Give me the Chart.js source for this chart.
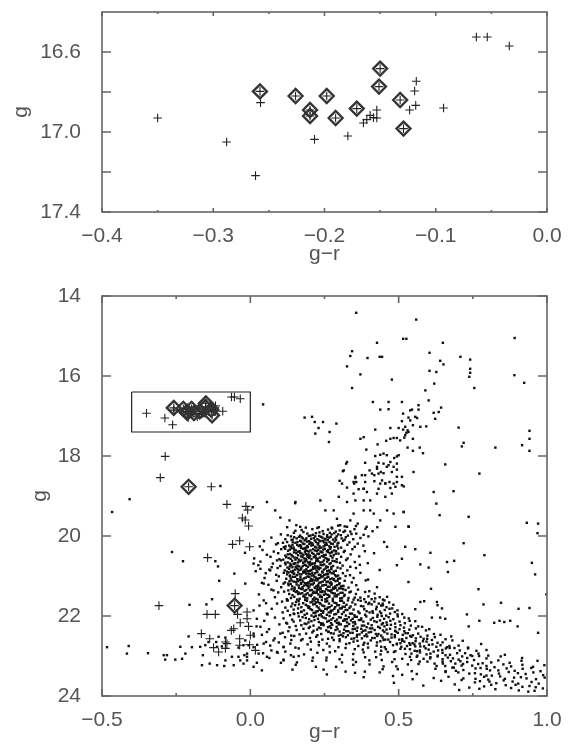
<!DOCTYPE html>
<html>
<head>
<meta charset="utf-8">
<script src="https://cdn.jsdelivr.net/npm/chart.js@4.4.0/dist/chart.umd.min.js"></script>
<style>
  body { margin: 0; background: #fff; width: 570px; height: 753px; overflow: hidden; position: relative; }
  canvas { position: absolute; left: 0; }
  #top { top: 0; }
  #bottom { top: 280px; }
</style>
</head>
<body>
<canvas id="top" width="570" height="280"></canvas>
<canvas id="bottom" width="570" height="473"></canvas>
<script>
// --- tick values and labels ---
const topXTicks = [-0.4, -0.35, -0.3, -0.25, -0.2, -0.15, -0.1, -0.05, 0.0];
const topXTickLabels = ['\u22120.4', '', '\u22120.3', '', '\u22120.2', '', '\u22120.1', '', '0.0'];
const topYTicks = [16.6, 16.8, 17.0, 17.2, 17.4];
const topYTickLabels = ['16.6', '', '17.0', '', '17.4'];
const botXTicks = [-0.5, -0.25, 0.0, 0.25, 0.5, 0.75, 1.0];
const botXTickLabels = ['\u22120.5', '', '0.0', '', '0.5', '', '1.0'];
const botYTicks = [14, 16, 18, 20, 22, 24];
const botYTickLabels = ['14', '16', '18', '20', '22', '24'];

// --- marked stars (g-r, g) ---
const diamondStars = [
  [-0.258, 16.797], [-0.226, 16.82], [-0.198, 16.82], [-0.213, 16.89], [-0.213, 16.92],
  [-0.190, 16.93], [-0.171, 16.883], [-0.150, 16.683], [-0.151, 16.773], [-0.132, 16.84], [-0.129, 16.983]
];
const plusStars = [
  [-0.35, 16.93], [-0.288, 17.05], [-0.262, 17.218], [-0.2575, 16.853], [-0.209, 17.037], [-0.179, 17.02],
  [-0.165, 16.955], [-0.162, 16.938], [-0.159, 16.917], [-0.156, 16.928], [-0.153, 16.93], [-0.153, 16.89],
  [-0.1175, 16.746], [-0.119, 16.795], [-0.118, 16.867], [-0.1235, 16.89], [-0.093, 16.88],
  [-0.0635, 16.525], [-0.0537, 16.525], [-0.0339, 16.57]
];
const diamondFaint = [[-0.208, 18.77], [-0.053, 21.74]];
const plusFaint = [
  [-0.287, 18.01], [-0.3035, 18.54], [-0.1316, 18.77], [-0.079, 19.21], [-0.015, 19.26], [-0.009, 19.35],
  [-0.027, 19.55], [-0.017, 19.6], [-0.006, 19.75], [-0.06, 20.21], [-0.036, 20.12], [-0.0025, 20.27],
  [-0.144, 20.54], [-0.051, 21.44], [-0.308, 21.74], [-0.146, 21.96], [-0.118, 21.96], [-0.043, 21.96],
  [-0.011, 21.9], [-0.011, 22.07], [-0.034, 22.17], [-0.006, 22.26], [-0.056, 22.32], [-0.064, 22.36],
  [-0.165, 22.44], [-0.137, 22.57], [-0.036, 22.57], [0.0, 22.48], [-0.084, 22.65], [-0.079, 22.69],
  [-0.124, 22.79], [-0.107, 22.9], [-0.084, 22.81], [-0.036, 22.73], [-0.0025, 22.72], [0.017, 22.86]
];
const boxX = [-0.4, 0.0, 0.0, -0.4, -0.4];
const boxY = [16.4, 16.4, 17.4, 17.4, 16.4];

// --- field stars: isolated ones (g-r, g) ---
const fieldStars = [
  [0.357,14.42],[0.427,15.17],[0.343,15.38],[0.337,15.5],[0.395,15.55],[0.436,15.52],[0.444,15.52],[0.326,15.76],
  [0.371,15.96],[0.477,16.09],[0.343,16.3],[0.043,16.71],[0.413,16.65],[0.466,16.65],[0.438,16.84],[0.466,16.83],
  [0.183,17.04],[0.208,17.02],[0.217,17.15],[0.245,17.15],[0.23,17.3],[0.29,17.19],[0.267,17.4],[0.219,17.44],
  [0.265,17.65],[0.421,17.34],[0.472,17.3],[0.5,17.3],[0.371,17.57],[0.382,17.53],[0.429,17.71],[0.458,17.62],
  [0.472,17.57],[0.483,17.55],[0.494,17.55],[0.391,17.84],[0.421,18.0],[0.438,17.97],[0.449,17.94],[0.46,17.98],
  [0.485,18.05],[0.494,18.01],[0.5,17.98],[0.323,18.19],[0.387,18.17],[0.432,18.17],[0.449,18.19],[0.472,18.15],
  [0.494,18.19],[0.312,18.38],[0.402,18.36],[0.427,18.32],[0.44,18.4],[0.46,18.27],[0.477,18.4],[0.494,18.34],
  [0.387,18.48],[0.418,18.48],[0.432,18.44],[0.449,18.43],[0.301,18.62],[0.354,18.55],[0.357,18.65],[0.35,18.69],
  [0.387,18.65],[0.418,18.63],[0.438,18.69],[0.455,18.68],[0.469,18.65],[0.483,18.69],[0.494,18.65],[0.326,18.79],
  [0.365,18.83],[0.382,18.82],[0.432,18.82],[0.472,18.8],
  [0.559,14.59],[0.515,15.07],[0.526,15.07],[0.649,15.17],[0.604,15.42],[0.708,15.52],[0.741,15.59],[0.64,15.62],
  [0.651,15.71],[0.891,15.05],[0.604,15.87],[0.627,15.9],[0.741,15.82],[0.741,15.92],[0.738,16.02],[0.89,15.98],
  [0.923,16.17],[0.62,16.19],[0.755,16.3],[0.59,16.36],[0.601,16.61],[0.511,16.65],[0.539,16.86],[0.545,16.84],
  [0.567,16.73],[0.567,16.84],[0.643,16.79],[0.635,16.9],[0.618,16.92],[0.515,16.94],[0.533,17.04],[0.556,17.02],
  [0.562,17.05],[0.539,17.11],[0.623,17.07],[0.511,17.13],[0.522,17.27],[0.548,17.23],[0.573,17.27],[0.593,17.26],
  [0.515,17.34],[0.53,17.36],[0.526,17.42],[0.522,17.48],[0.519,17.54],[0.533,17.4],[0.548,17.57],[0.505,17.61],
  [0.53,17.79],[0.548,17.87],[0.571,17.79],[0.582,17.93],[0.702,17.29],[0.719,17.67],[0.713,17.76],[0.826,17.79],
  [0.941,17.37],[0.941,17.57],[0.941,17.87],[0.916,17.73],[0.657,18.21],[0.55,18.4],[0.772,18.44],[0.511,18.52],
  [0.517,18.76],
  [0.618,18.9],[0.685,18.88],[0.627,19.19],[0.517,19.4],[0.638,19.48],[0.736,19.52],[0.533,19.76],[0.932,19.67],
  [0.97,19.69],[0.968,19.93],[0.719,20.18],[0.522,20.27],[0.556,20.33],[0.511,20.57],[0.607,20.42],[0.789,20.48],
  [0.573,20.71],[0.601,20.79],[0.663,20.65],[0.687,20.62],[0.666,20.9],[0.949,20.67],[0.96,20.96],[0.533,21.15],
  [0.609,21.32],[0.769,21.33],[0.998,21.46],[0.573,21.65],[0.586,21.63],[0.629,21.65],[0.631,21.73],[0.646,21.81],
  [0.786,21.71],[0.845,21.67],[0.904,21.82],[0.941,21.8],[0.73,21.96],[0.556,21.83],[0.612,22.04],[0.64,22.04],
  [0.657,22.07],[0.772,22.12],[0.822,22.17],[0.84,22.12],[0.856,22.15],[0.876,22.12],[0.901,22.26],[0.736,22.26],
  [0.97,22.42],[0.461,20.27],[0.494,20.73],
  [0.084,19.36],[0.101,19.54],[0.152,19.15],[0.132,19.61],[0.168,19.77],[0.236,19.11],[0.253,19.36],[0.281,19.36],
  [0.292,19.57],[0.303,19.73],[0.326,19.77],[0.337,19.61],[0.348,19.44],[0.362,19.69],[0.382,19.36],[0.404,19.11],
  [0.416,19.44],[0.438,19.61],[0.461,19.36],[0.483,19.44],[0.489,19.77],[0.517,19.4],[0.534,19.77],
  [0.326,18.15],[0.315,18.36],[0.354,18.52],[0.348,18.65],[0.376,18.48],[0.382,18.82],[0.41,18.44],[0.427,18.27],
  [0.444,18.61],[0.466,18.23],[0.455,18.69],[0.483,18.27],[0.494,18.52],[0.393,18.9],[0.427,18.94],[0.348,18.94],
  [0.309,18.69],[0.298,19.02],[0.326,19.15],[0.354,19.11],[0.382,19.11],[0.404,19.36],[0.455,19.02],[0.477,18.94],
  [0.489,18.77],[0.511,18.73],
  [-0.101,18.75],[-0.407,19.08],[-0.466,19.4],[0.008,19.28],[0.056,19.15],[0.124,19.78],[0.155,19.73],[0.151,19.18],
  [-0.264,20.4],[-0.227,20.63],[-0.118,20.63],[-0.109,20.76],[-0.054,20.94],[-0.105,21.12],[-0.017,21.19],
  [-0.205,21.72],[-0.148,21.71],[-0.129,21.58],
  [-0.483,22.78],[-0.41,22.75],[-0.416,22.94],[-0.345,22.93],[-0.292,22.98],[-0.281,22.98],[-0.287,23.09],
  [-0.236,22.77],[-0.23,23.07],[-0.253,23.09],[-0.219,22.94],[-0.208,22.51],[-0.197,22.78],[-0.169,22.77],
  [-0.152,22.73],[-0.141,22.65],[-0.137,23.19],[-0.163,23.23],[-0.16,22.98],[-0.112,23.23],[-0.088,23.25],
  [-0.084,23.11],[-0.062,23.02],[-0.04,23.02],[-0.023,23.19],[-0.011,23.11],[-0.115,22.65],[-0.084,22.54],
  [-0.107,22.52],[-0.112,22.77],[-0.096,22.76],[-0.04,22.79],[-0.023,22.73],[-0.006,22.73],[-0.011,22.94],
  [-0.02,22.98],
  [0.011,21.86],[0.022,22.07],[0.045,21.61],[0.056,21.94],[0.034,22.27],[0.056,22.4],[0.011,22.44],[-0.017,22.61],
  [0.011,22.78],[0.045,22.69],[0.078,22.61],[0.028,22.94],[0.056,23.02],[0.09,22.9],[0.112,22.78],[0.112,23.11],
  [0.146,23.02],[0.135,22.69],[0.101,22.44],[0.124,22.19],[0.146,21.94],[0.09,21.69],[0.124,21.61],[0.078,21.36],
  [0.112,21.19],[0.146,20.94],[0.045,21.19],[0.067,20.86],[0.09,20.61],[0.034,20.82],[0.011,20.69],[-0.011,23.02],
  [-0.034,23.11],[-0.056,23.23],[0.011,23.27],[0.039,23.36],[0.022,23.17]
];

// --- crowded sequence, by 0.1 mag bins: [bin g, g-r, hundredths below bin g, g-r, hundredths, ...] ---
const crowdBins = [
  [19.70, .231,8, .318,6, .274,9, .392,7, .187,9, .356,5, .428,8, .296,4],
  [19.80, .152,7, .209,3, .244,8, .276,1, .301,6, .337,9, .388,2, .173,5, .226,0, .262,4, .319,7, .351,3, .412,8, .288,9],
  [19.90, .103,6, .147,2, .168,9, .192,4, .211,7, .233,1, .247,5, .259,8, .283,3, .296,6, .314,0, .329,9, .357,4, .382,7,
          .126,8, .179,0, .221,3, .268,2, .305,8, .341,5, .203,9, .274,6],
  [20.00, .071,4, .118,8, .137,1, .156,6, .173,3, .186,9, .197,0, .214,5, .226,8, .238,2, .251,7, .266,4, .279,9, .291,1,
          .308,6, .322,3, .347,8, .371,5, .398,1, .164,2, .205,7, .243,4, .287,5, .143,9, .232,0, .259,3, .318,9, .189,6],
  [20.10, .046,3, .093,8, .124,5, .139,0, .152,7, .168,2, .177,9, .191,4, .202,6, .217,1, .229,8, .236,3, .248,6, .261,0,
          .272,9, .284,4, .297,7, .313,2, .334,6, .362,9, .451,5, .159,5, .183,1, .209,9, .244,2, .256,7, .221,5, .110,7, .289,0, .198,3],
  [20.20, .032,6, .087,1, .113,8, .131,4, .146,9, .158,2, .171,6, .182,0, .194,8, .206,4, .218,7, .227,1, .239,9, .252,3,
          .266,6, .278,0, .293,5, .306,9, .327,2, .352,7, .381,4, .163,5, .187,9, .211,2, .247,6, .271,8, .142,3, .233,5, .199,0, .119,6],
  [20.30, .041,5, .079,9, .104,3, .127,7, .139,1, .153,6, .166,8, .178,2, .186,5, .197,9, .212,3, .224,7, .233,0, .246,4,
          .258,8, .269,2, .283,6, .296,1, .318,7, .344,3, .386,8, .148,4, .171,0, .203,6, .238,9, .262,5, .117,2, .191,7, .229,5, .276,9],
  [20.40, -.018,2, .056,7, .094,3, .118,9, .134,5, .147,1, .161,8, .173,4, .184,0, .196,6, .208,2, .219,9, .231,5, .243,1,
          .254,7, .268,3, .281,8, .297,4, .315,0, .338,6, .417,3, .126,6, .155,3, .179,7, .201,9, .226,4, .249,8, .274,1, .188,5, .237,0],
  [20.50, .013,6, .068,2, .098,8, .121,3, .136,7, .149,4, .163,9, .171,1, .182,6, .193,2, .206,8, .214,3, .227,7, .241,0,
          .253,5, .264,9, .277,4, .291,8, .306,2, .328,6, .367,1, .143,1, .157,5, .187,8, .219,0, .234,4, .259,7, .111,9, .198,5, .247,2],
  [20.60, .034,4, .076,9, .103,1, .126,6, .141,2, .152,8, .167,3, .178,7, .189,0, .201,5, .213,9, .222,2, .236,6, .248,1,
          .259,4, .271,8, .284,3, .302,7, .323,0, .352,5, .396,8, .117,7, .146,9, .172,1, .194,6, .229,3, .264,0, .291,5, .207,9, .183,4],
  [20.70, .027,3, .072,8, .101,5, .119,1, .133,6, .148,0, .159,4, .172,9, .183,2, .194,7, .206,1, .218,5, .231,9, .243,3,
          .256,6, .267,0, .279,5, .294,9, .311,4, .337,7, .369,2, .142,8, .164,6, .188,4, .212,8, .237,2, .261,8, .125,9, .199,0, .226,6],
  [20.80, .018,8, .064,4, .092,0, .116,6, .131,2, .144,7, .157,1, .166,5, .178,9, .189,3, .201,7, .211,2, .223,6, .236,0,
          .248,4, .259,8, .273,3, .288,7, .304,1, .327,6, .356,0, .436,5, .137,9, .171,3, .194,8, .217,1, .242,9, .265,6, .151,4, .183,6],
  [20.90, .052,3, .087,7, .113,2, .134,9, .148,4, .161,1, .172,6, .184,0, .196,4, .207,9, .219,3, .231,7, .244,1, .256,6,
          .268,0, .281,4, .296,9, .312,3, .336,8, .371,2, .124,6, .157,8, .179,2, .201,5, .226,0, .249,7, .274,3, .141,1, .213,8, .262,5],
  [21.00, .048,5, .096,1, .121,7, .143,2, .158,8, .169,3, .181,6, .193,1, .204,7, .216,2, .228,8, .239,3, .251,7, .263,2,
          .276,6, .289,1, .303,6, .321,0, .348,5, .397,9, .133,0, .166,9, .187,4, .211,9, .233,5, .258,4, .282,8, .151,2, .223,6, .296,7],
  [21.10, .039,7, .089,2, .117,6, .139,1, .154,5, .167,0, .178,4, .191,8, .202,3, .214,7, .226,1, .238,6, .251,0, .262,4,
          .274,9, .287,3, .301,8, .318,2, .342,6, .389,1, .128,9, .161,3, .184,8, .208,2, .232,7, .257,5, .281,0, .146,4, .196,6, .268,8],
  [21.20, .061,2, .104,8, .129,3, .149,9, .163,4, .176,8, .188,2, .199,6, .211,1, .223,5, .236,9, .248,3, .261,7, .273,2,
          .286,6, .299,0, .314,5, .331,9, .357,3, .427,8, .141,6, .171,0, .193,5, .217,9, .242,4, .267,7, .292,3, .156,1, .229,2, .305,6],
  [21.30, .071,4, .114,9, .139,3, .157,8, .171,2, .183,7, .196,1, .207,5, .219,0, .231,4, .243,8, .256,3, .268,7, .281,2,
          .293,6, .306,1, .321,5, .339,9, .363,4, .401,8, .128,6, .164,0, .188,5, .213,9, .237,3, .262,6, .287,0, .149,2, .224,7, .313,3],
  [21.40, .029,6, .094,1, .131,5, .153,0, .168,4, .181,9, .193,3, .206,7, .218,2, .229,6, .242,0, .254,5, .266,9, .279,3,
          .291,8, .304,2, .318,7, .334,1, .356,5, .387,0, .419,4, .142,8, .175,3, .199,8, .224,2, .248,7, .273,1, .161,5, .236,9, .297,6],
  [21.50, .083,3, .123,8, .148,2, .166,7, .179,1, .192,6, .204,0, .216,4, .228,9, .241,3, .253,8, .266,2, .278,7, .291,1,
          .303,6, .316,0, .331,5, .348,9, .371,4, .409,8, .461,2, .137,5, .158,9, .185,4, .211,8, .235,2, .259,6, .284,1, .309,5, .222,7],
  [21.60, .053,8, .107,4, .142,9, .163,3, .178,8, .191,2, .203,6, .216,1, .228,5, .241,0, .253,4, .265,9, .278,3, .290,8,
          .303,2, .315,7, .329,1, .344,6, .363,0, .389,5, .446,9, .126,1, .154,5, .185,0, .209,4, .234,8, .259,3, .284,7, .309,2, .221,6],
  [21.70, .031,4, .118,9, .151,3, .172,8, .187,2, .199,7, .212,1, .224,6, .237,0, .249,5, .261,9, .274,4, .286,8, .299,3,
          .311,7, .324,2, .338,6, .354,1, .373,5, .398,0, .441,4, .138,6, .164,1, .193,5, .218,0, .243,4, .267,8, .293,3, .318,7, .230,9],
  [21.80, .072,2, .126,7, .161,1, .181,6, .196,0, .208,5, .221,9, .233,4, .246,8, .258,3, .271,7, .283,2, .296,6, .308,1,
          .321,5, .334,0, .348,4, .364,9, .384,3, .412,8, .469,2, .146,4, .172,9, .203,3, .227,8, .252,2, .277,6, .302,1, .327,5, .239,7],
  [21.90, .058,6, .109,1, .148,5, .172,0, .191,4, .206,9, .219,3, .232,8, .245,2, .258,7, .271,1, .283,6, .296,0, .309,5,
          .322,9, .336,4, .351,8, .368,3, .387,7, .413,2, .496,6, .134,8, .161,3, .183,7, .213,2, .238,6, .264,1, .289,5, .315,0, .343,4],
  [22.00, .083,4, .141,9, .176,3, .198,8, .214,2, .228,7, .241,1, .254,6, .267,0, .279,5, .292,9, .305,4, .318,8, .332,3,
          .345,7, .359,2, .374,6, .391,1, .413,5, .443,0, .519,4, .112,6, .163,1, .187,5, .221,0, .247,4, .273,9, .299,3, .325,8, .352,2],
  [22.10, .047,2, .121,7, .168,1, .196,6, .216,0, .231,5, .245,9, .259,4, .272,8, .286,3, .299,7, .313,2, .326,6, .339,1,
          .352,5, .366,0, .381,4, .397,9, .418,3, .447,8, .537,2, .146,4, .183,9, .206,3, .238,8, .265,2, .292,7, .319,1, .346,6, .373,0],
  [22.20, .021,6, .098,1, .153,5, .189,0, .213,4, .231,9, .247,3, .262,8, .276,2, .291,7, .305,1, .319,6, .333,0, .347,5,
          .361,9, .376,4, .392,8, .409,3, .431,7, .461,2, .566,6, .132,8, .172,3, .201,7, .239,2, .268,6, .298,1, .326,5, .354,0, .384,4],
  [22.30, .063,3, .128,8, .179,2, .213,7, .237,1, .256,6, .272,0, .287,5, .301,9, .316,4, .330,8, .345,3, .359,7, .374,2,
          .388,6, .403,1, .419,5, .437,0, .459,4, .491,9, .603,3, .156,5, .197,0, .225,4, .264,9, .294,3, .323,8, .352,2, .381,7, .411,1],
  [22.40, .039,7, .109,2, .166,6, .209,1, .239,5, .263,0, .281,4, .298,9, .314,3, .329,8, .345,2, .360,7, .376,1, .391,6,
          .407,0, .423,5, .441,9, .462,4, .487,8, .523,3, .641,7, .138,9, .188,4, .226,8, .272,3, .306,7, .337,2, .368,6, .399,1, .432,5],
  [22.50, .012,1, .082,6, .148,0, .201,5, .243,9, .276,4, .301,8, .322,3, .341,7, .359,2, .376,6, .394,1, .411,5, .428,0,
          .446,4, .465,9, .487,3, .512,8, .543,2, .584,7, .677,1, .117,3, .176,8, .222,2, .262,7, .312,1, .350,6, .385,0, .419,5, .455,9],
  [22.60, .053,5, .138,0, .204,4, .258,9, .301,3, .334,8, .361,2, .384,7, .406,1, .427,6, .449,0, .471,5, .494,9, .519,4,
          .547,8, .582,3, .631,7, .716,2, .096,6, .171,1, .231,5, .281,0, .348,4, .396,9, .438,3, .506,8],
  [22.70, .023,2, .112,7, .193,1, .267,6, .323,0, .364,5, .397,9, .426,4, .453,8, .481,3, .509,7, .539,2, .573,6, .614,1,
          .671,5, .778,0, .067,4, .152,9, .231,3, .297,8, .381,2, .441,7, .494,1, .556,6],
  [22.80, .071,6, .163,1, .246,5, .321,0, .379,4, .421,9, .457,3, .489,8, .521,2, .554,7, .591,1, .633,6, .688,0, .796,5,
          .118,9, .204,4, .286,8, .352,3, .441,7, .506,2, .571,6, .659,1],
  [22.90, .043,3, .137,8, .226,2, .309,7, .382,1, .439,6, .484,0, .523,5, .563,9, .607,4, .658,8, .724,3, .858,7,
          .092,2, .181,6, .268,1, .347,5, .463,0, .543,4, .632,9],
  [23.00, .064,5, .163,0, .257,4, .346,9, .424,3, .486,8, .538,2, .584,7, .631,1, .683,6, .748,0, .916,5,
          .112,9, .211,4, .301,8, .387,3, .512,7, .561,2, .606,6, .714,1],
  [23.10, .103,7, .209,2, .309,6, .401,1, .478,5, .542,0, .597,4, .649,9, .708,3, .783,8, .968,2,
          .157,6, .256,1, .356,5, .443,0, .571,4, .621,9, .676,3],
  [23.20, .153,2, .289,7, .402,1, .492,6, .567,0, .628,5, .686,9, .748,4, .823,8, .991,3, .221,7, .347,2, .449,6, .531,1, .657,5, .717,0],
  [23.30, .142,4, .321,9, .446,3, .544,8, .624,2, .693,7, .759,1, .836,6, .947,0, .247,4, .386,9, .497,3, .658,8, .797,2],
  [23.40, .258,6, .436,1, .561,5, .658,0, .738,4, .814,9, .902,3, .987,8, .353,2, .512,7, .701,1, .777,6],
  [23.50, .382,3, .547,8, .668,2, .759,7, .842,1, .931,6, .481,0, .618,5, .802,9, .889,4],
  [23.60, .484,7, .643,2, .757,6, .854,1, .948,5, .712,0, .806,4, .903,9],
  [23.70, .583,4, .738,9, .861,3, .962,8, .812,2, .917,7],
  [23.80, .704,5, .879,0, .958,7, .826,3, .937,9],
  // extra stars in the turn-off core
  [20.00, .148,3, .177,6, .219,1, .253,9, .271,2],
  [20.10, .143,6, .172,4, .206,8, .232,1, .267,5, .294,9],
  [20.20, .136,7, .168,3, .192,5, .223,9, .258,2, .284,7],
  [20.30, .133,4, .161,9, .183,1, .218,6, .251,2, .289,8],
  [20.40, .139,8, .168,2, .192,9, .213,5, .262,0, .288,4],
  [20.50, .129,5, .152,9, .176,3, .201,1, .222,6, .271,0],
  [20.60, .134,9, .161,6, .186,2, .218,8, .243,5, .277,2],
  [20.70, .138,2, .153,7, .177,5, .201,3, .224,9, .249,1, .273,8],
  [20.80, .124,9, .162,4, .186,8, .206,5, .231,3, .254,1, .281,9],
  [20.90, .129,1, .166,6, .188,4, .209,2, .237,7, .258,5, .286,8],
  [21.00, .136,6, .174,9, .198,2, .221,4, .245,1, .269,8],
  [21.10, .132,3, .171,7, .196,9, .219,1, .244,4, .271,6, .294,2],
  [21.20, .136,0, .181,4, .204,1, .229,7, .255,2, .279,9, .311,5],
  [21.30, .147,7, .176,3, .201,6, .226,2, .251,9, .274,5, .299,1],
  [21.40, .162,1, .187,6, .211,3, .236,0, .261,7, .285,4, .311,2],
  // extra stars along the lower main sequence
  [21.50, .352,4, .384,8, .398,1, .421,6, .436,3, .447,9],
  [21.60, .372,2, .401,7, .418,4, .433,9, .452,1, .468,6],
  [21.70, .381,6, .409,1, .426,7, .447,3, .459,8, .482,2],
  [21.80, .392,8, .424,3, .437,9, .453,5, .478,1, .496,6],
  [21.90, .402,1, .429,7, .441,3, .458,9, .471,4, .487,0, .512,5],
  [22.00, .406,9, .428,2, .451,7, .466,3, .482,8, .497,1, .534,6],
  [22.10, .426,5, .437,1, .459,6, .472,2, .488,9, .503,4, .521,8, .556,3],
  [22.20, .443,1, .452,6, .474,2, .489,8, .506,3, .518,9, .541,4, .579,7],
  [22.30, .447,6, .471,2, .488,7, .503,3, .519,8, .536,4, .558,1, .592,6],
  [22.40, .452,0, .476,6, .497,2, .514,7, .531,3, .548,8, .566,4, .597,9, .619,5],
  [22.50, .476,4, .502,9, .526,5, .539,0, .558,6, .574,2, .596,7, .622,3, .658,8],
  [22.60, .512,2, .536,8, .557,3, .571,9, .594,4, .612,0, .648,6, .681,1],
  [22.70, .528,5, .553,1, .586,6, .602,2, .627,7, .641,3, .663,8, .702,4, .734,9],
  [22.80, .538,3, .562,8, .601,4, .618,9, .647,5, .672,0, .706,6, .734,1, .762,7],
  [22.90, .572,1, .594,6, .648,2, .673,7, .697,3, .742,8, .769,4, .802,9],
  [23.00, .607,3, .648,8, .666,4, .702,9, .731,5, .771,0, .796,6, .844,1],
  [23.10, .648,4, .691,9, .731,5, .754,0, .812,6, .836,1, .874,7, .914,2],
  [23.20, .681,9, .712,4, .768,0, .796,5, .853,1, .879,6, .917,2, .953,7],
  [23.30, .718,5, .776,0, .808,6, .864,1, .891,7, .918,2, .978,8],
  [23.40, .757,3, .796,9, .838,4, .871,0, .928,5, .954,1],
  [23.50, .718,6, .788,2, .858,7, .912,3, .963,8, .992,4],
  [23.60, .774,3, .829,8, .884,4, .972,9],
  [23.70, .689,1, .788,6, .894,2, .941,5],
  [23.80, .772,2, .905,6, .986,1]
];

// --- helpers ---
const pts = arr => arr.map(p => ({ x: p[0], y: p[1] }));
const crowdPts = [];
crowdBins.forEach(b => {
  for (let i = 1; i < b.length; i += 2) crowdPts.push({ x: b[i], y: b[0] + b[i + 1] / 100 });
});
const boxPts = boxX.map((v, i) => ({ x: v, y: boxY[i] }));

const FONT = { family: "'Liberation Sans', Arial, sans-serif", size: 21 };
const TXT = '#555';

const frameTicks = {
  id: 'frameTicks',
  afterDatasetsDraw(chart, args, opts) {
    const { ctx, chartArea: a, scales: { x, y } } = chart;
    ctx.save();
    ctx.strokeStyle = '#666';
    ctx.lineWidth = 1.6;
    ctx.strokeRect(a.left, a.top, a.right - a.left, a.bottom - a.top);
    ctx.beginPath();
    x.ticks.forEach(t => {
      const px = x.getPixelForValue(t.value);
      const len = t.label ? opts.xMajor : opts.xMinor;
      ctx.moveTo(px, a.bottom); ctx.lineTo(px, a.bottom - len);
      ctx.moveTo(px, a.top); ctx.lineTo(px, a.top + len);
    });
    y.ticks.forEach(t => {
      const py = y.getPixelForValue(t.value);
      ctx.moveTo(a.left, py); ctx.lineTo(a.left + opts.yLen, py);
      ctx.moveTo(a.right, py); ctx.lineTo(a.right - opts.yLen, py);
    });
    ctx.stroke();
    ctx.restore();
  }
};

function axes(xr, yr, xt, xl, yt, yl, xHeight, yTitlePad, xTitlePad) {
  return {
    x: {
      type: 'linear', min: xr[0], max: xr[1],
      afterBuildTicks: s => { s.ticks = xt.map(v => ({ value: v })); },
      afterFit: s => { s.height = xHeight; s.paddingLeft = 0; s.paddingRight = 0; },
      grid: { display: false }, border: { display: false },
      ticks: { autoSkip: false, maxRotation: 0, padding: 4, font: FONT, color: TXT,
               callback: (v, i) => xl[i] },
      title: { display: true, text: 'g\u2212r', font: FONT, color: TXT, padding: { top: 0, bottom: xTitlePad } }
    },
    y: {
      type: 'linear', min: yr[0], max: yr[1], reverse: true,
      afterBuildTicks: s => { s.ticks = yt.map(v => ({ value: v })); },
      afterFit: s => { s.width = 102; s.paddingTop = 0; s.paddingBottom = 0; },
      grid: { display: false }, border: { display: false },
      ticks: { autoSkip: false, padding: 13, font: FONT, color: TXT,
               callback: (v, i) => yl[i] },
      title: { display: true, text: 'g', font: FONT, color: TXT, padding: { top: yTitlePad, bottom: 0 } }
    }
  };
}

const common = {
  responsive: false, animation: false, devicePixelRatio: 1,
  plugins: { legend: { display: false }, tooltip: { enabled: false } }
};

const diamondStyle = { pointStyle: 'rectRot', pointRadius: 7, borderWidth: 2.3, borderColor: '#333', backgroundColor: 'rgba(0,0,0,0)' };
const plusStyle = { pointStyle: 'cross', pointRadius: 4.3, borderWidth: 1.1, borderColor: '#222' };

// top panel: zoom into the boxed region
new Chart(document.getElementById('top'), {
  type: 'scatter',
  data: {
    datasets: [
      Object.assign({ data: pts(diamondStars) }, diamondStyle),
      Object.assign({ data: pts(plusStars.concat(diamondStars)) }, plusStyle)
    ]
  },
  options: Object.assign({}, common, {
    layout: { padding: { top: 12, right: 23, left: 0, bottom: 0 } },
    scales: axes([-0.4, 0.0], [16.4, 17.4], topXTicks, topXTickLabels, topYTicks, topYTickLabels, 68, 9, 13),
    plugins: Object.assign({}, common.plugins, { frameTicks: { xMajor: 4, xMinor: 2, yLen: 9 } })
  }),
  plugins: [frameTicks]
});

// bottom panel: full colour-magnitude diagram
new Chart(document.getElementById('bottom'), {
  type: 'scatter',
  data: {
    datasets: [
      Object.assign({ data: pts(diamondStars.concat(diamondFaint)) }, diamondStyle),
      Object.assign({ data: pts(plusStars.concat(diamondStars, plusFaint, diamondFaint)) }, plusStyle),
      { data: boxPts, showLine: true, borderColor: '#222', borderWidth: 1.2, pointRadius: 0, fill: false },
      { data: pts(fieldStars).concat(crowdPts), pointStyle: 'rect', pointRadius: 1.7, borderWidth: 0,
        backgroundColor: '#111' }
    ]
  },
  options: Object.assign({}, common, {
    layout: { padding: { top: 16, right: 23, left: 0, bottom: 0 } },
    scales: axes([-0.5, 1.0], [14, 24], botXTicks, botXTickLabels, botYTicks, botYTickLabels, 57, 28, 8),
    plugins: Object.assign({}, common.plugins, { frameTicks: { xMajor: 7, xMinor: 3, yLen: 9 } })
  }),
  plugins: [frameTicks]
});
</script>
</body>
</html>
